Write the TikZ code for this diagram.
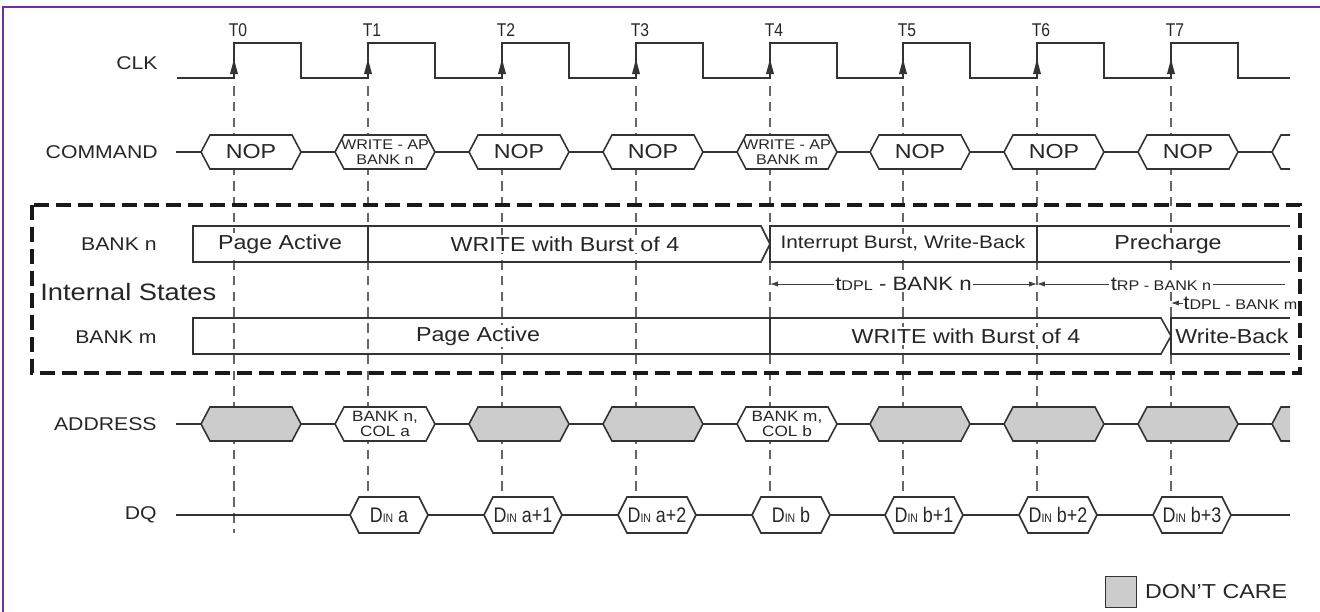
\documentclass[tikz,border=0pt]{standalone}
\usepackage{fontspec}
\setmainfont{Liberation Sans}[FakeStretch=1.15]
\newfontfamily\narrowfont{Liberation Sans}[FakeStretch=0.85]
\usetikzlibrary{arrows.meta}
\definecolor{framepurple}{RGB}{112,48,160}
% hexagon of a bus: style, left x, right x, mid y, half height
\newcommand{\hexbus}[5]{%
  \draw[#1] (#2,#4) -- (#2+9,#4-#5) -- (#3-9,#4-#5) -- (#3,#4) -- (#3-9,#4+#5) -- (#2+9,#4+#5) -- cycle;}
\newcommand{\din}[1]{\narrowfont D{\fontsize{7}{7}\selectfont IN} #1}
\tikzset{
  wave/.style={line width=0.9pt, draw=black!80},
  tickline/.style={draw=black!60, line width=0.6pt, dash pattern=on 5.5pt off 3.5pt},
  hexw/.style={wave, fill=white},
  hexg/.style={wave, fill=gray!40},
  statebox/.style={line width=0.9pt, draw=black!80},
  groupbox/.style={line width=1.8pt, draw=black!90, dash pattern=on 8.5pt off 4pt},
  siglabel/.style={anchor=east, inner sep=0pt, text=black!85, font=\fontsize{10.5}{12}\selectfont},
  tlabel/.style={inner sep=0pt, text=black!85, font=\narrowfont\fontsize{10.5}{11}\selectfont},
  statetext/.style={fill=white, inner sep=1pt, text=black!85, font=\fontsize{11.5}{13}\selectfont},
  hextext/.style={inner sep=0pt, text=black!85, align=center, font=\fontsize{8}{8.5}\selectfont},
  dintext/.style={inner sep=0pt, text=black!85, font=\fontsize{12}{13}\selectfont},
  dim/.style={line width=0.5pt, draw=black!75},
  dimtext/.style={fill=white, inner sep=1pt, text=black!85, font=\fontsize{11}{12}\selectfont},
  tip/.tip={Latex[length=4.5pt,width=3pt]}
}
\begin{document}
\begin{tikzpicture}[x=0.02cm, y=-0.02cm]
    \useasboundingbox (0,0) rectangle (1320,612);
    \draw[line width=1.6pt, framepurple] (3,612) -- (3,7) -- (1320,7);

    % clock edges and grid lines
    \foreach \k/\x in {0/234,1/368,2/502,3/636,4/770,5/903,6/1037,7/1171} {
        \draw[tickline] (\x,86) -- (\x,533);
        \node[tlabel] (tl\k) at (\x+4,30) {T\k};
    }

    % CLK
    \node[siglabel] (clk) at (158,63) {CLK};
    \draw[wave] (177,78) \foreach \x in {234,368,502,636,770,903,1037,1171} { -- (\x,78) -- (\x,43) -- (\x+67,43) -- (\x+67,78) } -- (1290,78);
    \foreach \x in {234,368,502,636,770,903,1037,1171} {
        \fill[black!80] (\x-4,74) -- (\x,59) -- (\x+4,74) -- cycle;
    }

    % COMMAND
    \node[siglabel] (cmd) at (158,152) {COMMAND};
    \draw[wave] (176,152) -- (1290,152);
    \foreach \k/\x in {0/234,2/502,3/636,5/903,6/1037,7/1171} {
        \hexbus{hexw}{\x-33}{\x+67}{152}{17}
        \node[statetext] (cmd\k) at (\x+17,152) {NOP};
    }
    \hexbus{hexw}{335}{435}{152}{17}
    \node[hextext] (cmd1) at (385,152) {WRITE - AP\\BANK n};
    \hexbus{hexw}{737}{837}{152}{17}
    \node[hextext] (cmd4) at (787,152) {WRITE - AP\\BANK m};
    \fill[white] (1290,135) -- (1281,135) -- (1272,152) -- (1281,169) -- (1290,169) -- cycle;
    \draw[wave] (1290,135) -- (1281,135) -- (1272,152) -- (1281,169) -- (1290,169);

    % internal states
    \draw[groupbox] (32,205) rectangle (1300,373);
    \node[anchor=west, inner sep=0pt, text=black!85, font=\fontsize{13.5}{15}\selectfont] (intst) at (40,292) {Internal States};
    \node[siglabel] (bankn) at (157,244) {BANK n};
    \node[siglabel] (bankm) at (157,337) {BANK m};

    \draw[statebox] (193,226) rectangle (368,262);
    \draw[statebox] (368,226) -- (761,226) -- (770,244) -- (761,262) -- (368,262);
    \draw[statebox] (770,226) rectangle (1037,262);
    \draw[statebox] (1290,226) -- (1037,226) -- (1037,262) -- (1290,262);
    \node[statetext] (pan) at (280,244) {Page Active};
    \node[statetext] (wbn) at (565,244) {WRITE with Burst of 4};
    \node[statetext, font=\fontsize{10.3}{12}\selectfont] (ibn) at (903,244) {Interrupt Burst, Write-Back};
    \node[statetext] (prn) at (1168,244) {Precharge};

    \draw[statebox] (193,318) rectangle (770,354);
    \draw[statebox] (770,318) -- (1161,318) -- (1171,336) -- (1161,354) -- (770,354);
    \draw[statebox] (1290,318) -- (1171,318) -- (1171,354) -- (1290,354);
    \node[statetext] (pam) at (478,336) {Page Active};
    \node[statetext] (wbm) at (966,336) {WRITE with Burst of 4};
    \node[statetext] (wrm) at (1232,336) {Write-Back};

    % timing parameters
    \coordinate (dpl0) at (770,284);
    \coordinate (dpl1) at (1037,284);
    \coordinate (rp1) at (1285,284);
    \coordinate (dplm0) at (1171,303);
    \coordinate (dplm1) at (1183,303);
    \draw[dim, tip-tip] (dpl0) -- (dpl1) node[midway, dimtext] (dpln) {t{\fontsize{8}{9}\selectfont DPL} - BANK n};
    \draw[dim, tip-] (dpl1) -- (rp1) node[midway, dimtext] (rpn) {t{\fontsize{8}{9}\selectfont RP - BANK n}};
    \draw[dim, -tip] (dplm1) -- (dplm0);
    \node[dimtext, anchor=west, inner sep=0pt] (dplm) at (dplm1) {t{\fontsize{8}{9}\selectfont DPL - BANK m}};

    % ADDRESS
    \node[siglabel] (addr) at (157,424) {ADDRESS};
    \draw[wave] (176,424) -- (1290,424);
    \foreach \k/\x in {0/234,2/502,3/636,5/903,6/1037,7/1171} {
        \hexbus{hexg}{\x-33}{\x+67}{424}{17}
    }
    \hexbus{hexw}{335}{435}{424}{17}
    \node[hextext, font=\fontsize{8.5}{8.5}\selectfont] (addr1) at (385,424) {BANK n,\\COL a};
    \hexbus{hexw}{737}{837}{424}{17}
    \node[hextext, font=\fontsize{8.5}{8.5}\selectfont] (addr4) at (787,424) {BANK m,\\COL b};
    \fill[gray!40] (1290,407) -- (1281,407) -- (1272,424) -- (1281,441) -- (1290,441) -- cycle;
    \draw[wave] (1290,407) -- (1281,407) -- (1272,424) -- (1281,441) -- (1290,441);

    % DQ
    \node[siglabel] (dq) at (157,515) {DQ};
    \draw[wave] (176,515) -- (1290,515);
    \foreach \k/\x/\d in {1/368/a,2/502/a+1,3/636/a+2,4/770/b,5/903/b+1,6/1037/b+2,7/1171/b+3} {
        \hexbus{hexw}{\x-18}{\x+60}{515}{18}
        \node[dintext] (dq\k) at (\x+21,515) {\din{\d}};
    }

    % legend
    \node[draw=black!80, fill=gray!40, line width=0.9pt, minimum size=0.62cm, inner sep=0pt] (dcbox) at (1121,592) {};
    \node[statetext, anchor=west] (dcare) at (1143,592) {DON'T CARE};
\end{tikzpicture}
\end{document}
